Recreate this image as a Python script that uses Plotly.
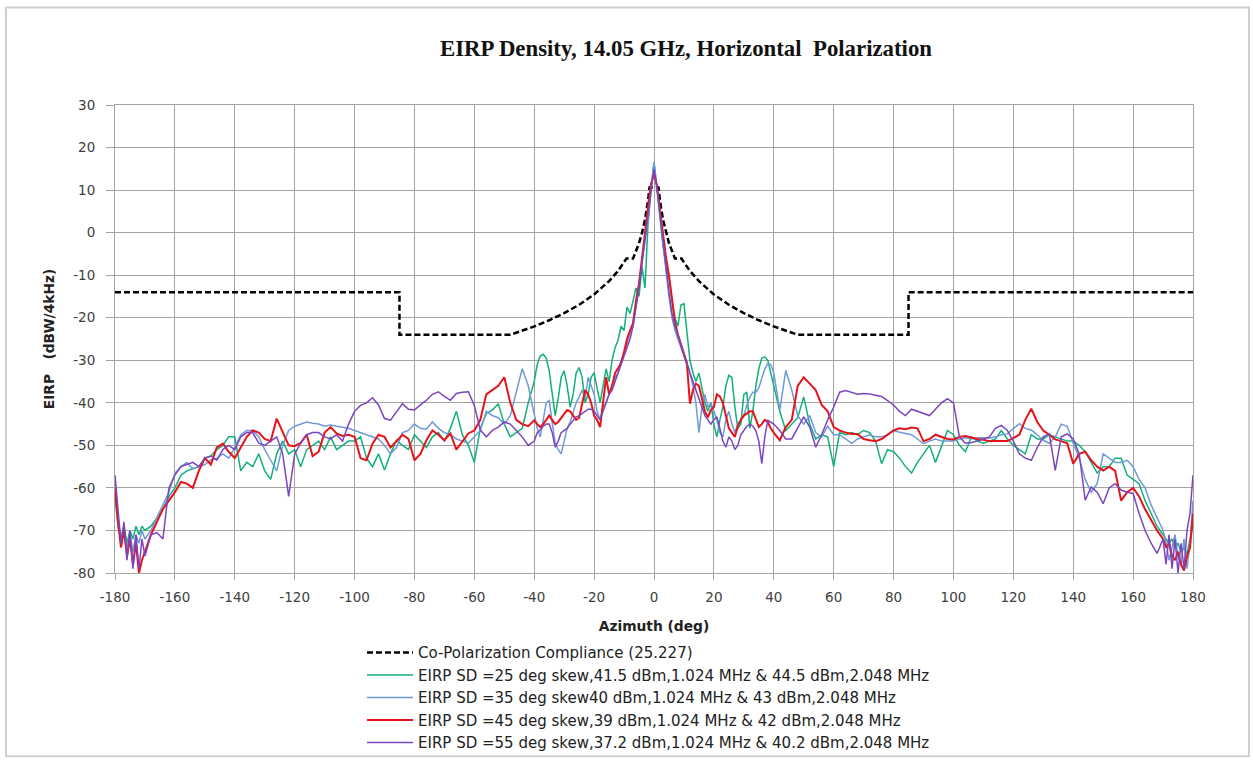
import plotly.graph_objects as go

# Azimuth grid (deg): 1-degree steps near the back lobes and the main beam, 2-degree steps elsewhere
AZIMUTH = (list(range(-180, -169)) + list(range(-168, -41, 2)) + list(range(-40, 41))
           + list(range(42, 169, 2)) + list(range(170, 181)))

# Axis ticks
X_TICKS = list(range(-180, 181, 20))
X_LABELS = ["-180", "-160", "-140", "-120", "-100", "-80", "-60", "-40", "-20", "0",
            "20", "40", "60", "80", "100", "120", "140", "160", "180"]
Y_TICKS = list(range(-80, 31, 10))
Y_LABELS = ["-80", "-70", "-60", "-50", "-40", "-30", "-20", "-10", "0", "10", "20", "30"]

# Compliance mask, EIRP density (dBW/4kHz)
MASK_AZ = [-180, -85, -85, -48, -40, -35, -30, -25, -20, -15, -12, -10, -9.2, -7, -5, -4, -3, -2,
           -1.5, 1.5, 2, 3, 4, 5, 7, 9.2, 10, 12, 15, 20, 25, 30, 35, 40, 48, 85, 85, 180]
MASK_VAL = [-14, -14, -24, -24, -22.05, -20.6, -18.93, -16.95, -14.53, -11.4, -8.98, -7.0, -6.1, -6.1,
            -2.47, -0.05, 3.07, 7.47, 10.6, 10.6, 7.47, 3.07, -0.05, -2.47, -6.1, -6.1,
            -7.0, -8.98, -11.4, -14.53, -16.95, -18.93, -20.6, -22.05, -24, -24, -14, -14]

SKEW_25 = [
    # -180 .. -170
    -62, -69, -72, -69, -73, -70, -72, -69, -71, -69, -70,
    # -168 .. -42
    -69, -67, -65, -62, -60, -57, -56, -55.5, -55, -53, -52.5, -51, -50, -48, -48, -56,
    -54, -55, -52, -56, -58, -52, -49, -52, -51, -55, -51, -50, -49, -51, -48, -51,
    -50, -49, -49, -48, -53, -55, -52, -55.8, -52, -48.8, -50, -51, -47.5, -49, -50.5, -48,
    -47, -49, -46, -42, -47.5, -50, -54, -46, -42.5, -41.7, -40.2, -45, -48, -47, -46, -40,
    # -40 .. 40
    -35, -31, -29, -28.6, -29.5, -32.5, -38, -43, -39, -34, -32.5, -36, -41, -38, -33, -31.7,
    -34, -40, -38, -34, -33,
    -37, -40, -36, -32, -35, -30, -27, -25.3, -22, -23, -17.5, -19, -16, -13, -15, -8, -13, 2, 10,
    16.6,
    10, 3, -3, -8, -10.5, -16, -20, -22, -17, -16.7, -24, -30, -33, -35, -33, -37, -40, -42, -40,
    -45, -48, -44, -41, -36, -33.5, -34, -41, -46, -45, -38, -37.5, -46, -42, -36, -32,
    -29.5, -29.2, -30, -33, -36.5,
    # 42 .. 168
    -42, -46.5, -45, -43.5, -38.6, -45, -48.5, -47.5, -48, -55, -47, -47.5, -47, -47.5, -46.5, -47,
    -49, -54.3, -51, -51.5, -53, -55, -56.5, -54, -52, -50, -54, -50, -46.5, -47.5, -50, -51.5,
    -48, -49, -49.5, -49, -48.5, -46.5, -48.5, -50, -51, -52, -47.5, -48.5, -48.5, -47.5, -48, -48.5,
    -49, -49, -50, -51.5, -54, -56.5, -55, -55, -53, -53, -57, -58, -59, -63, -66, -69,
    # 170 .. 180
    -71, -72, -73, -72, -74, -73, -75, -74, -75.5, -72, -69,
]

SKEW_35 = [
    # -180 .. -170
    -59, -67, -72, -70, -74, -71, -75, -71, -73, -70, -72,
    # -168 .. -42
    -70, -67, -64, -61, -56.6, -55, -54, -55.5, -55, -54.5, -53.5, -53, -52, -53, -50.5, -47.5,
    -46.5, -46.5, -48, -51, -53.5, -56, -50, -46.5, -45.5, -45, -44.5, -44.8, -45, -45.5, -45.2, -45.5,
    -45.8, -46, -46.5, -47, -47.5, -48, -48.5, -50, -52, -50.5, -47, -46.5, -45, -46, -46.2, -44.5,
    -46, -47, -47.5, -48.5, -49, -49.5, -48, -46.5, -42, -43, -43.5, -45, -43, -37.5, -32, -36,
    # -40 .. 40
    -43, -46, -48, -44, -40, -39.5, -45, -49.6, -51, -52, -49, -46, -44.5, -42, -40, -38.6,
    -37, -39, -34, -36, -38,
    -42, -44, -41, -40, -38, -36, -34, -33, -30, -28.5, -26, -24, -21, -17, -12, -8, -3, 3, 10,
    16.5,
    11, 4, -3, -9, -15, -20, -23, -25, -27, -29, -31, -33, -36, -40, -47, -41, -38, -41, -40,
    -42, -44, -47, -48, -44, -42, -45, -47, -45, -44, -43, -40.5, -38.7, -37.5, -37.5, -36.5,
    -34, -32, -30.8, -31, -33,
    # 42 .. 168
    -41.8, -32.4, -37, -43, -45, -43, -47, -48, -45.5, -47.5, -47.5, -48.5, -49.5, -48.5, -48, -47.5,
    -48, -48, -47.5, -46.5, -46.9, -47.2, -47.5, -48.5, -49.6, -49, -48.5, -49, -49, -49, -48.5, -48.2,
    -48.5, -48.2, -48.2, -48.3, -48, -47.5, -47.3, -46, -44.9, -46, -46.4, -47.5, -48.8, -49.5, -48, -45,
    -45.5, -49.5, -53, -58, -61, -59, -52, -53, -54, -54, -53.5, -55, -58, -60, -64, -67,
    # 170 .. 180
    -70, -73, -77, -74, -71, -76, -78, -72, -79, -73, -63,
]

SKEW_45 = [
    # -180 .. -170
    -60, -68, -74, -70, -76, -72, -78, -73, -80, -77, -75,
    # -168 .. -42
    -71, -68, -65, -63, -61, -58.6, -59, -60, -56, -53, -54.5, -50.5, -49.6, -51.5, -53, -50.5,
    -48, -46.5, -47, -48.5, -49, -43.7, -47, -50, -50.2, -49.4, -47.5, -52.5, -51.5, -47, -45.7, -47.2,
    -47.8, -47.5, -48, -53, -53.5, -49.6, -47.5, -48, -50.5, -49, -47.5, -48.5, -53.5, -52, -48.8, -46.5,
    -47.5, -48.8, -47.2, -51, -49, -47.2, -46.5, -44, -38, -37, -36, -34, -40, -44, -45, -45.5,
    # -40 .. 40
    -44.1, -45, -45.7, -45, -44, -43, -44, -45, -44.5, -43.5, -42.5, -41.7, -42, -43, -44, -43.5,
    -40, -37, -38, -40, -43,
    -44, -45.7, -40, -34, -38, -36, -33, -32, -30.7, -28, -25, -23, -21.4, -16, -12, -6, 0.5, 6, 11.4,
    13.8,
    11, 5, 0.5, -5.8, -10, -16, -21, -24, -26.1, -28.5, -30.8, -40.2, -37, -35.5, -36, -39, -42, -43.4, -41.7,
    -41, -38, -38.5, -40, -43, -46, -47, -48, -45.5, -44, -43, -42.5, -42, -42, -44, -45.7,
    -45, -44, -44.5, -46, -47,
    # 42 .. 168
    -48.8, -45.7, -44, -36, -34, -35.5, -37, -40.5, -42, -45.7, -46.5, -47, -47.3, -47.3, -48.5, -48.8,
    -49, -48.5, -47.5, -46.5, -46, -46.2, -45.8, -46, -49, -48.5, -47.5, -48, -48.5, -48.6, -48, -47.8,
    -48.2, -48.5, -48.7, -49, -49, -49, -49, -48.3, -47.5, -44, -41.4, -44.5, -46.5, -47.5, -48.6, -49,
    -49.5, -54.3, -52, -51.5, -53.5, -55, -55.9, -55, -56, -63, -61, -60, -62, -65, -67.5, -70,
    # 170 .. 180
    -72, -74, -73, -76, -77, -75, -78, -79.4, -76, -74, -66,
]

SKEW_55 = [
    # -180 .. -170
    -57, -66, -73, -68, -77, -70, -79, -71, -79, -72, -76,
    # -168 .. -42
    -71, -70.5, -72, -60, -57, -55, -54.5, -54, -55, -53, -52.5, -53.5, -51, -50, -51, -48,
    -47, -47, -49.5, -50, -49, -48, -52, -62, -52, -49.5, -47.5, -47, -47, -48, -48.5, -47.5,
    -49, -45, -42, -40.6, -40, -38.8, -40.5, -43.7, -44.1, -42, -40.2, -41.5, -41.7, -40.5, -39.4, -38,
    -37.4, -38.5, -39.4, -37.8, -37.5, -37.4, -40.6, -46.4, -48, -46.5, -45.7, -44.5, -45, -46.5, -48, -50,
    # -40 .. 40
    -49, -47, -46.4, -45.5, -45, -45, -47, -50.4, -49, -47, -46.4, -46, -45, -44, -43.3, -43,
    -42.5, -42, -41.5, -41.5, -42,
    -43, -44, -42, -40, -38, -37, -35, -33, -31, -29, -27, -25, -22, -18, -13, -7, -2, 4, 10,
    15,
    10.5, 4, -2, -8, -14, -19, -22, -24, -26, -28, -30.5, -33, -35, -37.5, -39, -41, -43, -44, -45,
    -44, -43.3, -46, -49, -50.4, -48, -49, -51, -50, -47.5, -46.5, -45.5, -45, -45.5, -46.5, -49,
    -54.3, -48, -44.1, -44.5, -45,
    # 42 .. 168
    -46.5, -48.5, -48.5, -46, -43.3, -45.7, -50.4, -47.5, -44, -41, -37.5, -37.1, -37.5, -38, -37.8, -37.9,
    -38.2, -38.5, -39.5, -40.5, -42, -43, -41.5, -42, -42.5, -43, -41.5, -40, -39, -40, -48, -49.5,
    -49.3, -49, -48.5, -48, -46, -45.3, -46.5, -49, -52, -53, -53.5, -50.5, -48, -47.3, -55.9, -48,
    -47.3, -48.5, -52, -62.9, -59.8, -61, -63.7, -60, -59, -60.5, -61, -61.3, -66, -70, -73, -75.4,
    # 170 .. 180
    -72, -78, -71, -79, -72, -80, -73, -79, -70, -66, -57,
]

MASK_NAME = "Co-Polarization Compliance (25.227)"
SERIES = [
    ("EIRP SD =25 deg skew,41.5 dBm,1.024 MHz & 44.5 dBm,2.048 MHz", SKEW_25, "#12b07a", 1.5),
    ("EIRP SD =35 deg skew40 dBm,1.024 MHz & 43 dBm,2.048 MHz", SKEW_35, "#6f9ad6", 1.5),
    ("EIRP SD =45 deg skew,39 dBm,1.024 MHz & 42 dBm,2.048 MHz", SKEW_45, "#e5141b", 2.0),
    ("EIRP SD =55 deg skew,37.2 dBm,1.024 MHz & 40.2 dBm,2.048 MHz", SKEW_55, "#7b45c0", 1.5),
]

for _, vals, _, _ in SERIES:
    assert len(vals) == len(AZIMUTH)

fig = go.Figure()
fig.add_trace(go.Scatter(x=MASK_AZ, y=MASK_VAL, mode="lines", name=MASK_NAME,
                         line=dict(color="black", width=2.5, dash="6px,3px")))
for name, vals, color, width in SERIES:
    fig.add_trace(go.Scatter(x=AZIMUTH, y=vals, mode="lines", name=name,
                             line=dict(color=color, width=width)))

GRID = "#a3a3a3"
SANS = "DejaVu Sans, Verdana, sans-serif"
TICK_FONT = dict(family=SANS, size=13.5, color="#404040")
AXIS_TITLE_FONT = dict(family=SANS, size=13.8, color="#222")

# plot-area pixel geometry, used for placing the legend and the outer chart frame
L, R, T, B = 115, 1193, 104.5, 572.7
W, H = R - L, B - T

def px_x(p):
    return (p - L) / W

def px_y(p):
    return (B - p) / H

fig.update_layout(
    width=1253, height=763,
    margin=dict(l=L, r=1253 - R, t=T, b=763 - B, autoexpand=False),
    paper_bgcolor="white", plot_bgcolor="white",
    showlegend=True,
    title=dict(text="<b>EIRP Density, 14.05 GHz, Horizontal  Polarization</b>",
               font=dict(family="Liberation Serif, Times New Roman, serif", size=22.8, color="#111"),
               x=686 / 1253, xanchor="center", y=1 - 48 / 763, yanchor="middle"),
    xaxis=dict(range=[-180, 180], tickmode="array", tickvals=X_TICKS, ticktext=X_LABELS,
               showgrid=True, gridcolor=GRID, gridwidth=1,
               zeroline=False, showline=True, linecolor=GRID, mirror=True,
               ticks="outside", ticklen=6, tickcolor=GRID, tickfont=TICK_FONT,
               ticklabelstandoff=6,
               title=dict(text="<b>Azimuth (deg)</b>", standoff=17, font=AXIS_TITLE_FONT)),
    yaxis=dict(range=[-80, 30], tickmode="array", tickvals=Y_TICKS, ticktext=Y_LABELS,
               showgrid=True, gridcolor=GRID, gridwidth=1,
               zeroline=False, showline=True, linecolor=GRID, mirror=True,
               ticks="outside", ticklen=8, tickcolor=GRID, tickfont=TICK_FONT,
               ticklabelstandoff=8,
               title=dict(text="<b>EIRP   (dBW/4kHz)</b>", standoff=15, font=AXIS_TITLE_FONT)),
    legend=dict(x=px_x(362), xanchor="left", y=px_y(636), yanchor="top",
                bgcolor="rgba(0,0,0,0)", borderwidth=0, itemwidth=46,
                font=dict(family=SANS, size=15, color="#222"),
                tracegroupgap=0),
    shapes=[dict(type="rect", xref="paper", yref="paper",
                 x0=px_x(6), x1=px_x(1249), y0=px_y(756), y1=px_y(7),
                 line=dict(color="#cfcfcf", width=2), layer="below")],
)

fig.write_html("out.html")
